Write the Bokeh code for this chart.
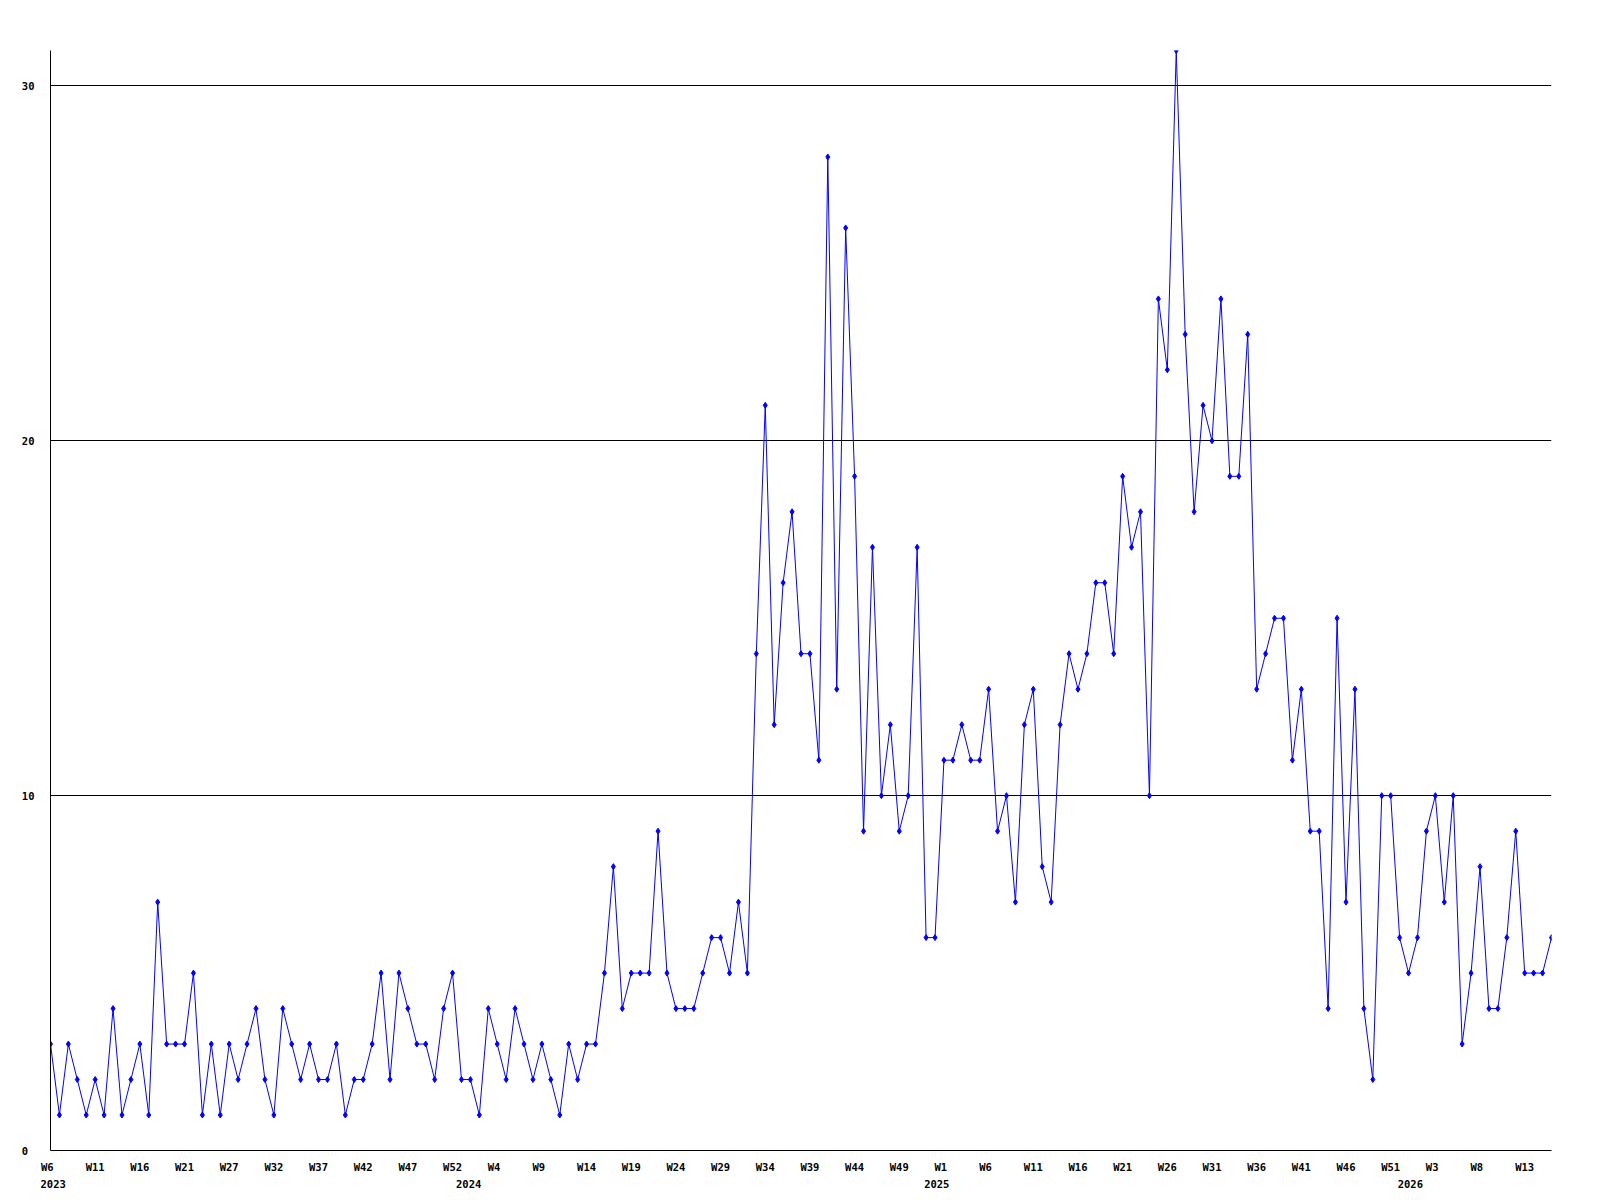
from bokeh.plotting import figure
from bokeh.models import FixedTicker, LinearAxis, Range1d, ColumnDataSource
from bokeh.embed import file_html
from bokeh.resources import INLINE

# weekly counts, 2023 W6 .. 2026 W16
values = [
    3, 1, 3, 2, 1, 2, 1, 4, 1, 2,
    3, 1, 7, 3, 3, 3, 5, 1, 3, 1,
    3, 2, 3, 4, 2, 1, 4, 3, 2, 3,
    2, 2, 3, 1, 2, 2, 3, 5, 2, 5,
    4, 3, 3, 2, 4, 5, 2, 2, 1, 4,
    3, 2, 4, 3, 2, 3, 2, 1, 3, 2,
    3, 3, 5, 8, 4, 5, 5, 5, 9, 5,
    4, 4, 4, 5, 6, 6, 5, 7, 5, 14,
    21, 12, 16, 18, 14, 14, 11, 28, 13, 26,
    19, 9, 17, 10, 12, 9, 10, 17, 6, 6,
    11, 11, 12, 11, 11, 13, 9, 10, 7, 12,
    13, 8, 7, 12, 14, 13, 14, 16, 16, 14,
    19, 17, 18, 10, 24, 22, 31, 23, 18, 21,
    20, 24, 19, 19, 23, 13, 14, 15, 15, 11,
    13, 9, 9, 4, 15, 7, 13, 4, 2, 10,
    10, 6, 5, 6, 9, 10, 7, 10, 3, 5,
    8, 4, 4, 6, 9, 5, 5, 5, 6,
]

# week labels every 5th sample
week_labels = [
    "W6", "W11", "W16", "W21", "W27", "W32", "W37", "W42", "W47", "W52",
    "W4", "W9", "W14", "W19", "W24", "W29", "W34", "W39", "W44", "W49",
    "W1", "W6", "W11", "W16", "W21", "W26", "W31", "W36", "W41", "W46",
    "W51", "W3", "W8", "W13",
]
# year labels and where they sit along the sample axis
year_labels = ["2023", "2024", "2025", "2026"]
year_pos = [0.3, 46.8, 99.2, 152.2]

y_ticks = [0, 10, 20, 30]

x = list(range(len(values)))
week_ticks = list(range(0, len(values), 5))[: len(week_labels)]

src = ColumnDataSource(dict(x=x, y=values))

FONT = "DejaVu Sans Mono"
FSIZE = "10.5px"

p = figure(
    width=1592, height=1192,
    output_backend="svg", toolbar_location=None,
    x_range=Range1d(0, len(values) - 1), y_range=Range1d(0, max(values)),
    min_border_left=50, min_border_right=41,
    min_border_top=50, min_border_bottom=42,
)
p.outline_line_color = None
p.background_fill_color = "white"
p.border_fill_color = "white"

# grid
p.xgrid.visible = False
p.ygrid.ticker = FixedTicker(ticks=[t for t in y_ticks if t > 0])
p.ygrid.grid_line_color = "black"
p.ygrid.grid_line_alpha = 1.0
p.ygrid.grid_line_width = 1

# y axis
ya = p.yaxis[0]
ya.ticker = FixedTicker(ticks=y_ticks)
ya.major_label_overrides = {0: "0\u00a0"}
ya.major_tick_in = 0
ya.major_tick_out = 0
ya.minor_tick_in = 0
ya.minor_tick_out = 0
ya.axis_line_color = "black"
ya.major_label_standoff = 16
ya.major_label_text_font = FONT
ya.major_label_text_font_style = "bold"
ya.major_label_text_font_size = FSIZE
ya.major_label_text_color = "black"

# x axis (weeks) - labels start a little left of their sample, so pad short ones
xa = p.xaxis[0]
xa.ticker = FixedTicker(ticks=week_ticks)
xa.major_label_overrides = {
    t: (lab if len(lab) >= 3 else lab + "\u00a0")
    for t, lab in zip(week_ticks, week_labels)
}
xa.major_tick_in = 0
xa.major_tick_out = 0
xa.minor_tick_in = 0
xa.minor_tick_out = 0
xa.axis_line_color = "black"
xa.major_label_standoff = 10
xa.major_label_text_font = FONT
xa.major_label_text_font_style = "bold"
xa.major_label_text_font_size = FSIZE
xa.major_label_text_color = "black"

# second x axis (years)
xa2 = LinearAxis(
    ticker=FixedTicker(ticks=year_pos),
    major_label_overrides={t: lab for t, lab in zip(year_pos, year_labels)},
    major_tick_in=0, major_tick_out=0, minor_tick_in=0, minor_tick_out=0,
    axis_line_color=None,
    major_label_standoff=4,
    major_label_text_font=FONT,
    major_label_text_font_style="bold",
    major_label_text_font_size=FSIZE,
    major_label_text_color="black",
)
p.add_layout(xa2, "below")

p.line("x", "y", source=src, line_color="#0000ff", line_width=1)
p.scatter("x", "y", source=src, marker="diamond", size=6,
          fill_color="#0000ff", line_color="#0000ff")

open("out.html", "w").write(file_html(p, INLINE))
